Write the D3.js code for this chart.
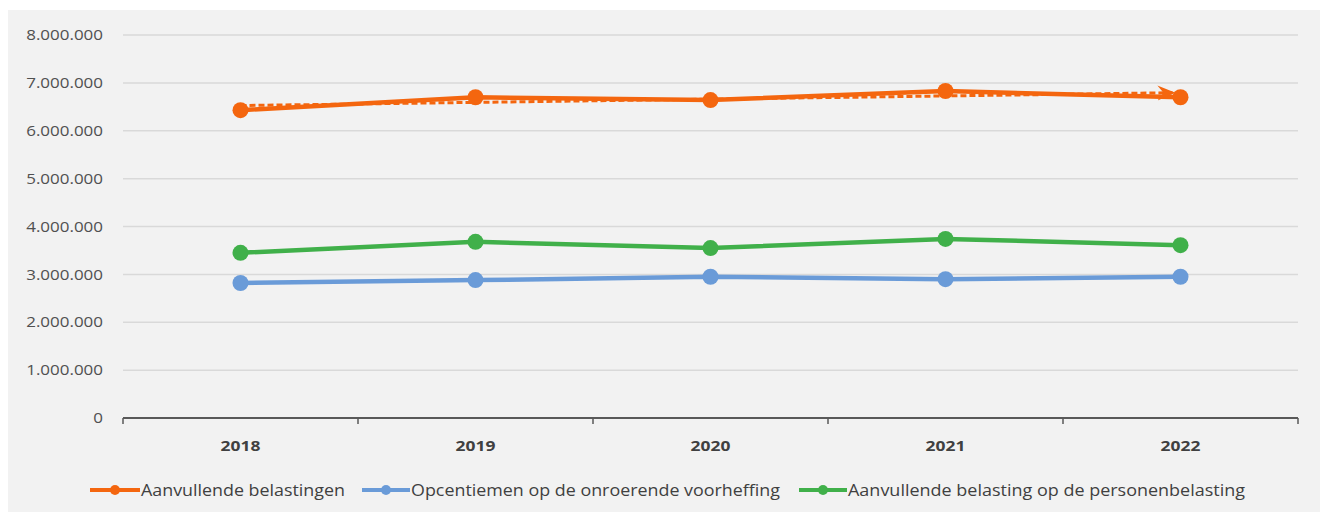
<!DOCTYPE html>
<html>
<head>
<meta charset="utf-8">
<script src="https://cdn.jsdelivr.net/npm/d3@7"></script>
<style>
  body { margin: 0; background: #fff; }
  svg text { font-family: "Open Sans", "Noto Sans", sans-serif; }
</style>
</head>
<body>
<svg id="chart" width="1320" height="512"></svg>
<script>
// chart data
const years = ["2018", "2019", "2020", "2021", "2022"];
const aanvullend = [6430000, 6700000, 6640000, 6830000, 6700000];
const opcentiemen = [2820000, 2880000, 2950000, 2900000, 2950000];
const personen = [3450000, 3680000, 3550000, 3740000, 3610000];
const yTicks = [0, 1000000, 2000000, 3000000, 4000000, 5000000, 6000000, 7000000, 8000000];

const series = [
  { name: "Aanvullende belastingen", values: aanvullend, color: "#f4660f" },
  { name: "Opcentiemen op de onroerende voorheffing", values: opcentiemen, color: "#6a9bd8" },
  { name: "Aanvullende belasting op de personenbelasting", values: personen, color: "#40b04a" }
];

const width = 1320, height = 512;
const margin = { top: 35, right: 22, bottom: 94, left: 123 };

const svg = d3.select("#chart");

// the reference text is a bit wider than Open Sans, stretch it
function stretch(sel, factor) {
  sel.each(function () {
    const w = this.getComputedTextLength();
    d3.select(this).attr("textLength", w * factor).attr("lengthAdjust", "spacingAndGlyphs");
  });
}

// gray panel
svg.append("rect")
  .attr("x", 8).attr("y", 10)
  .attr("width", width - 8).attr("height", height - 10)
  .attr("fill", "#f2f2f2");

const x = d3.scaleBand()
  .domain(years)
  .range([margin.left, width - margin.right]);

const y = d3.scaleLinear()
  .domain([0, 8000000])
  .range([height - margin.bottom, margin.top]);

const fmt = v => d3.format(",")(v).replace(/,/g, ".");

// gridlines
svg.append("g")
  .selectAll("line")
  .data(yTicks.filter(d => d > 0))
  .enter()
  .append("line")
  .attr("x1", margin.left)
  .attr("x2", width - margin.right)
  .attr("y1", d => y(d))
  .attr("y2", d => y(d))
  .attr("stroke", "#d9d9d9")
  .attr("stroke-width", 1.5);

// y axis labels
const yAxis = svg.append("g")
  .attr("transform", `translate(${margin.left - 20},0)`)
  .call(d3.axisLeft(y).tickValues(yTicks).tickFormat(fmt).tickSize(0));
yAxis.select(".domain").remove();
yAxis.selectAll("text")
  .attr("fill", "#505050")
  .attr("x", 0)
  .style("font-size", "14.5px")
  .call(stretch, 1.17);

// x axis with ticks at band boundaries
const xAxisY = y(0);
svg.append("line")
  .attr("x1", margin.left).attr("x2", width - margin.right)
  .attr("y1", xAxisY).attr("y2", xAxisY)
  .attr("stroke", "#595959").attr("stroke-width", 2);

const bounds = years.map(d => x(d)).concat([x(years[years.length - 1]) + x.bandwidth()]);
svg.append("g")
  .selectAll("line")
  .data(bounds)
  .enter()
  .append("line")
  .attr("x1", d => d).attr("x2", d => d)
  .attr("y1", xAxisY).attr("y2", xAxisY + 6)
  .attr("stroke", "#595959").attr("stroke-width", 1.5);

svg.append("g")
  .selectAll("text")
  .data(years)
  .enter()
  .append("text")
  .attr("x", d => x(d) + x.bandwidth() / 2)
  .attr("y", xAxisY + 33)
  .attr("text-anchor", "middle")
  .attr("fill", "#404040")
  .style("font-size", "14.5px")
  .style("font-weight", "bold")
  .text(d => d)
  .call(stretch, 1.2);

const cx = d => x(d) + x.bandwidth() / 2;
const line = d3.line()
  .x((d, i) => cx(years[i]))
  .y(d => y(d));

// arrow marker for trendline
svg.append("defs").append("marker")
  .attr("id", "arrow")
  .attr("viewBox", "0 0 12 10")
  .attr("refX", 10).attr("refY", 5)
  .attr("markerWidth", 6).attr("markerHeight", 5.5)
  .attr("markerUnits", "strokeWidth")
  .attr("orient", "auto")
  .append("path")
  .attr("d", "M0,0 L12,5 L0,10 L4,5 Z")
  .attr("fill", "#f4660f");

// series lines + markers
series.forEach(s => {
  svg.append("path")
    .datum(s.values)
    .attr("d", line)
    .attr("fill", "none")
    .attr("stroke", s.color)
    .attr("stroke-width", 4.5);

  svg.append("g")
    .selectAll("circle")
    .data(s.values)
    .enter()
    .append("circle")
    .attr("cx", (d, i) => cx(years[i]))
    .attr("cy", d => y(d))
    .attr("r", 8)
    .attr("fill", s.color);
});

// linear trendline on the first series
const n = aanvullend.length;
const mean = d3.mean(aanvullend);
const xm = (n - 1) / 2;
const slope = d3.sum(aanvullend, (v, i) => (i - xm) * (v - mean)) / d3.sum(aanvullend, (v, i) => (i - xm) ** 2);
const trend = aanvullend.map((v, i) => mean + slope * (i - xm));

svg.append("path")
  .datum(trend)
  .attr("d", d3.line().x((d, i) => cx(years[i]) - (i === n - 1 ? 8 : 0)).y(d => y(d)))
  .attr("fill", "none")
  .attr("stroke", "#f4660f")
  .attr("stroke-width", 3)
  .attr("stroke-dasharray", "6,3")
  .attr("marker-end", "url(#arrow)");

// legend
const legendItems = [
  { x0: 90, tx: 141, w: 204 },
  { x0: 362, tx: 411, w: 369 },
  { x0: 799, tx: 848, w: 397 }
];
const legendY = 490;
const legend = svg.append("g");
series.forEach((s, i) => {
  const it = legendItems[i];
  legend.append("line")
    .attr("x1", it.x0).attr("x2", it.tx - 1)
    .attr("y1", legendY).attr("y2", legendY)
    .attr("stroke", s.color).attr("stroke-width", 4);
  legend.append("circle")
    .attr("cx", (it.x0 + it.tx - 1) / 2).attr("cy", legendY)
    .attr("r", 5).attr("fill", s.color);
  legend.append("text")
    .attr("x", it.tx).attr("y", legendY + 6)
    .attr("fill", "#404040")
    .style("font-size", "15.5px")
    .attr("textLength", it.w)
    .attr("lengthAdjust", "spacingAndGlyphs")
    .text(s.name);
});
</script>
</body>
</html>
